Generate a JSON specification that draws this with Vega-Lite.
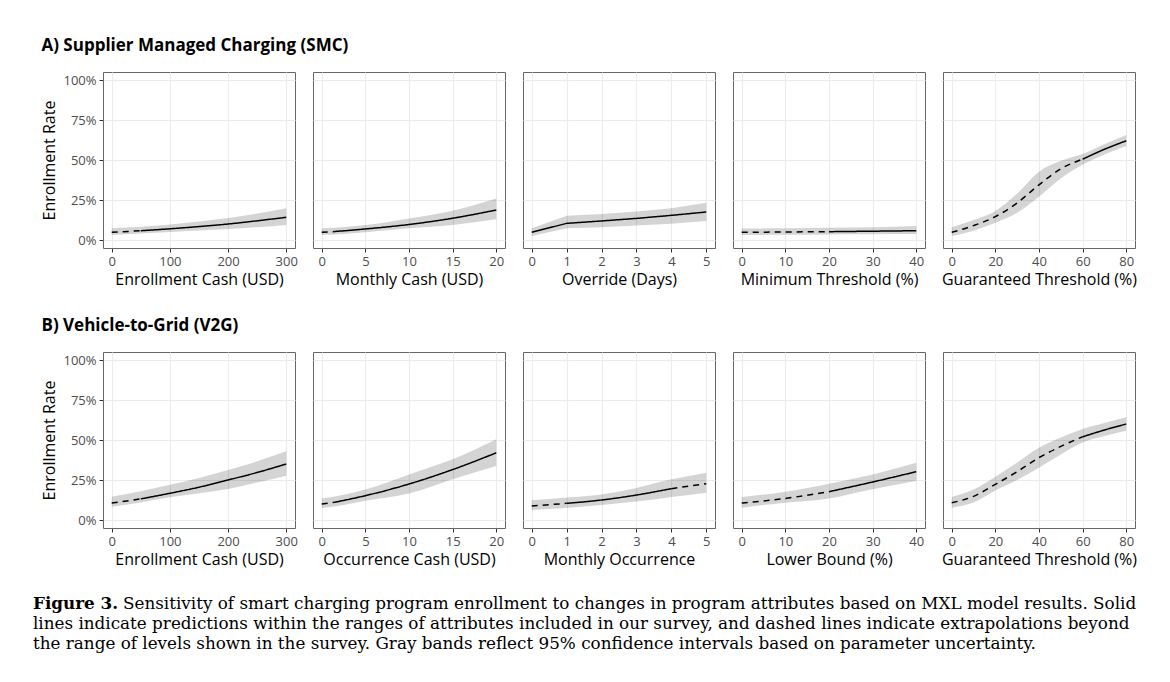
{
  "$schema": "https://vega.github.io/schema/vega-lite/v6.json",
  "background": "white",
  "padding": {"left": 33, "top": 36, "right": 5, "bottom": 5},
  "datasets": {
    "d": [
      {"p":"A1","x":0,"y":0.048,"lo":0.031,"hi":0.073,"s":"dashed","g":"a"},
      {"p":"A1","x":50,"y":0.058,"lo":0.040,"hi":0.083,"s":"dashed","g":"a"},
      {"p":"A1","x":50,"y":0.058,"lo":0.040,"hi":0.083,"s":"solid","g":"b","k":1},
      {"p":"A1","x":100,"y":0.070,"lo":0.050,"hi":0.097,"s":"solid","g":"b"},
      {"p":"A1","x":150,"y":0.084,"lo":0.059,"hi":0.116,"s":"solid","g":"b"},
      {"p":"A1","x":200,"y":0.100,"lo":0.068,"hi":0.137,"s":"solid","g":"b"},
      {"p":"A1","x":250,"y":0.120,"lo":0.080,"hi":0.166,"s":"solid","g":"b"},
      {"p":"A1","x":300,"y":0.142,"lo":0.094,"hi":0.199,"s":"solid","g":"b"},

      {"p":"A2","x":0,"y":0.048,"lo":0.031,"hi":0.073,"s":"dashed","g":"a"},
      {"p":"A2","x":1.5,"y":0.053,"lo":0.035,"hi":0.077,"s":"dashed","g":"a"},
      {"p":"A2","x":1.5,"y":0.053,"lo":0.035,"hi":0.077,"s":"solid","g":"b","k":1},
      {"p":"A2","x":5,"y":0.069,"lo":0.048,"hi":0.093,"s":"solid","g":"b"},
      {"p":"A2","x":10,"y":0.097,"lo":0.073,"hi":0.135,"s":"solid","g":"b"},
      {"p":"A2","x":15,"y":0.136,"lo":0.094,"hi":0.183,"s":"solid","g":"b"},
      {"p":"A2","x":20,"y":0.1875,"lo":0.129,"hi":0.26,"s":"solid","g":"b"},

      {"p":"A3","x":0,"y":0.048,"lo":0.025,"hi":0.073,"s":"solid","g":"b"},
      {"p":"A3","x":1,"y":0.104,"lo":0.073,"hi":0.152,"s":"solid","g":"b"},
      {"p":"A3","x":2,"y":0.119,"lo":0.080,"hi":0.163,"s":"solid","g":"b"},
      {"p":"A3","x":3,"y":0.135,"lo":0.090,"hi":0.178,"s":"solid","g":"b"},
      {"p":"A3","x":4,"y":0.154,"lo":0.102,"hi":0.198,"s":"solid","g":"b"},
      {"p":"A3","x":5,"y":0.175,"lo":0.119,"hi":0.233,"s":"solid","g":"b"},

      {"p":"A4","x":0,"y":0.048,"lo":0.031,"hi":0.072,"s":"dashed","g":"a"},
      {"p":"A4","x":10,"y":0.050,"lo":0.033,"hi":0.073,"s":"dashed","g":"a"},
      {"p":"A4","x":20,"y":0.052,"lo":0.035,"hi":0.076,"s":"dashed","g":"a"},
      {"p":"A4","x":20,"y":0.052,"lo":0.035,"hi":0.076,"s":"solid","g":"b","k":1},
      {"p":"A4","x":30,"y":0.055,"lo":0.036,"hi":0.080,"s":"solid","g":"b"},
      {"p":"A4","x":40,"y":0.058,"lo":0.037,"hi":0.088,"s":"solid","g":"b"},

      {"p":"A5","x":0,"y":0.048,"lo":0.025,"hi":0.079,"s":"dashed","g":"a"},
      {"p":"A5","x":10,"y":0.090,"lo":0.058,"hi":0.125,"s":"dashed","g":"a"},
      {"p":"A5","x":20,"y":0.146,"lo":0.108,"hi":0.182,"s":"dashed","g":"a"},
      {"p":"A5","x":30,"y":0.232,"lo":0.170,"hi":0.290,"s":"dashed","g":"a"},
      {"p":"A5","x":40,"y":0.345,"lo":0.270,"hi":0.427,"s":"dashed","g":"a"},
      {"p":"A5","x":50,"y":0.445,"lo":0.385,"hi":0.495,"s":"dashed","g":"a"},
      {"p":"A5","x":60,"y":0.505,"lo":0.470,"hi":0.538,"s":"dashed","g":"a"},
      {"p":"A5","x":60,"y":0.505,"lo":0.470,"hi":0.538,"s":"solid","g":"b","k":1},
      {"p":"A5","x":70,"y":0.567,"lo":0.535,"hi":0.598,"s":"solid","g":"b"},
      {"p":"A5","x":80,"y":0.620,"lo":0.5875,"hi":0.656,"s":"solid","g":"b"},

      {"p":"B1","x":0,"y":0.106,"lo":0.083,"hi":0.146,"s":"dashed","g":"a"},
      {"p":"B1","x":50,"y":0.132,"lo":0.110,"hi":0.180,"s":"dashed","g":"a"},
      {"p":"B1","x":50,"y":0.132,"lo":0.110,"hi":0.180,"s":"solid","g":"b","k":1},
      {"p":"B1","x":100,"y":0.167,"lo":0.142,"hi":0.220,"s":"solid","g":"b"},
      {"p":"B1","x":150,"y":0.205,"lo":0.167,"hi":0.263,"s":"solid","g":"b"},
      {"p":"B1","x":200,"y":0.250,"lo":0.194,"hi":0.312,"s":"solid","g":"b"},
      {"p":"B1","x":250,"y":0.297,"lo":0.234,"hi":0.367,"s":"solid","g":"b"},
      {"p":"B1","x":300,"y":0.350,"lo":0.277,"hi":0.429,"s":"solid","g":"b"},

      {"p":"B2","x":0,"y":0.100,"lo":0.075,"hi":0.135,"s":"dashed","g":"a"},
      {"p":"B2","x":1.5,"y":0.111,"lo":0.085,"hi":0.147,"s":"dashed","g":"a"},
      {"p":"B2","x":1.5,"y":0.111,"lo":0.085,"hi":0.147,"s":"solid","g":"b","k":1},
      {"p":"B2","x":5,"y":0.152,"lo":0.120,"hi":0.190,"s":"solid","g":"b"},
      {"p":"B2","x":10,"y":0.225,"lo":0.165,"hi":0.285,"s":"solid","g":"b"},
      {"p":"B2","x":15,"y":0.315,"lo":0.254,"hi":0.379,"s":"solid","g":"b"},
      {"p":"B2","x":20,"y":0.420,"lo":0.3375,"hi":0.504,"s":"solid","g":"b"},

      {"p":"B3","x":0,"y":0.0875,"lo":0.0625,"hi":0.123,"s":"dashed","g":"a"},
      {"p":"B3","x":1,"y":0.104,"lo":0.075,"hi":0.140,"s":"dashed","g":"a"},
      {"p":"B3","x":1,"y":0.104,"lo":0.075,"hi":0.140,"s":"solid","g":"b","k":1},
      {"p":"B3","x":2,"y":0.125,"lo":0.094,"hi":0.160,"s":"solid","g":"b"},
      {"p":"B3","x":3,"y":0.156,"lo":0.115,"hi":0.200,"s":"solid","g":"b"},
      {"p":"B3","x":4,"y":0.196,"lo":0.144,"hi":0.254,"s":"solid","g":"b"},
      {"p":"B3","x":4,"y":0.196,"lo":0.144,"hi":0.254,"s":"dashed","g":"c","k":1},
      {"p":"B3","x":5,"y":0.227,"lo":0.171,"hi":0.296,"s":"dashed","g":"c"},

      {"p":"B4","x":0,"y":0.106,"lo":0.077,"hi":0.144,"s":"dashed","g":"a"},
      {"p":"B4","x":10,"y":0.135,"lo":0.108,"hi":0.177,"s":"dashed","g":"a"},
      {"p":"B4","x":20,"y":0.177,"lo":0.135,"hi":0.227,"s":"dashed","g":"a"},
      {"p":"B4","x":20,"y":0.177,"lo":0.135,"hi":0.227,"s":"solid","g":"b","k":1},
      {"p":"B4","x":30,"y":0.2375,"lo":0.192,"hi":0.285,"s":"solid","g":"b"},
      {"p":"B4","x":40,"y":0.302,"lo":0.244,"hi":0.358,"s":"solid","g":"b"},

      {"p":"B5","x":0,"y":0.108,"lo":0.077,"hi":0.144,"s":"dashed","g":"a"},
      {"p":"B5","x":10,"y":0.148,"lo":0.110,"hi":0.190,"s":"dashed","g":"a"},
      {"p":"B5","x":20,"y":0.223,"lo":0.185,"hi":0.270,"s":"dashed","g":"a"},
      {"p":"B5","x":30,"y":0.302,"lo":0.250,"hi":0.360,"s":"dashed","g":"a"},
      {"p":"B5","x":40,"y":0.390,"lo":0.327,"hi":0.452,"s":"dashed","g":"a"},
      {"p":"B5","x":50,"y":0.460,"lo":0.410,"hi":0.515,"s":"dashed","g":"a"},
      {"p":"B5","x":60,"y":0.520,"lo":0.485,"hi":0.569,"s":"dashed","g":"a"},
      {"p":"B5","x":60,"y":0.520,"lo":0.485,"hi":0.569,"s":"solid","g":"b","k":1},
      {"p":"B5","x":70,"y":0.5625,"lo":0.525,"hi":0.607,"s":"solid","g":"b"},
      {"p":"B5","x":80,"y":0.600,"lo":0.558,"hi":0.642,"s":"solid","g":"b"}
    ],
    "cap": [
      {"l":1,"b":1,"t":"Figure 3."},
      {"l":1,"b":2,"t":"Sensitivity of smart charging program enrollment to changes in program attributes based on MXL model results. Solid"},
      {"l":2,"b":0,"t":"lines indicate predictions within the ranges of attributes included in our survey, and dashed lines indicate extrapolations beyond"},
      {"l":3,"b":0,"t":"the range of levels shown in the survey. Gray bands reflect 95% confidence intervals based on parameter uncertainty."}
    ]
  },
  "spacing": 28,
  "vconcat": [
    {
      "title": {"text": "A) Supplier Managed Charging (SMC)"},
      "data": {"name": "d"},
      "bounds": "flush",
      "spacing": 18,
      "hconcat": [
        {"width":192,"height":176,"transform":[{"filter":"datum.p==='A1'"}],
         "encoding":{"x":{"field":"x","type":"quantitative","scale":{"domain":[-15,315],"nice":false,"zero":false},"axis":{"values":[0,100,200,300],"title":"Enrollment Cash (USD)"}}},
         "layer":[
          {"transform":[{"filter":"!datum.k"}],"mark":{"type":"area","color":"#000","opacity":0.17,"interpolate":"monotone"},
           "encoding":{"y":{"field":"lo","type":"quantitative","scale":{"domain":[-0.05,1.05],"nice":false,"zero":false},"axis":{"values":[0,0.25,0.5,0.75,1],"format":"%","title":"Enrollment Rate"}},"y2":{"field":"hi"}}},
          {"mark":{"type":"line","color":"#000","strokeWidth":1.5,"interpolate":"monotone"},
           "encoding":{"y":{"field":"y","type":"quantitative","scale":{"domain":[-0.05,1.05],"nice":false,"zero":false},"axis":{"values":[0,0.25,0.5,0.75,1],"format":"%","title":"Enrollment Rate"}},"detail":{"field":"g"},"strokeDash":{"field":"s","type":"nominal","scale":{"domain":["solid","dashed"],"range":[[1,0],[6,5]]},"legend":null}}}
         ]},
        {"width":192,"height":176,"transform":[{"filter":"datum.p==='A2'"}],
         "encoding":{"x":{"field":"x","type":"quantitative","scale":{"domain":[-1,21],"nice":false,"zero":false},"axis":{"values":[0,5,10,15,20],"title":"Monthly Cash (USD)"}}},
         "layer":[
          {"transform":[{"filter":"!datum.k"}],"mark":{"type":"area","color":"#000","opacity":0.17,"interpolate":"monotone"},
           "encoding":{"y":{"field":"lo","type":"quantitative","scale":{"domain":[-0.05,1.05],"nice":false,"zero":false},"axis":{"values":[0,0.25,0.5,0.75,1],"labels":false,"ticks":false,"title":null}},"y2":{"field":"hi"}}},
          {"mark":{"type":"line","color":"#000","strokeWidth":1.5,"interpolate":"monotone"},
           "encoding":{"y":{"field":"y","type":"quantitative","scale":{"domain":[-0.05,1.05],"nice":false,"zero":false},"axis":{"values":[0,0.25,0.5,0.75,1],"labels":false,"ticks":false,"title":null}},"detail":{"field":"g"},"strokeDash":{"field":"s","type":"nominal","scale":{"domain":["solid","dashed"],"range":[[1,0],[6,5]]},"legend":null}}}
         ]},
        {"width":192,"height":176,"transform":[{"filter":"datum.p==='A3'"}],
         "encoding":{"x":{"field":"x","type":"quantitative","scale":{"domain":[-0.25,5.25],"nice":false,"zero":false},"axis":{"values":[0,1,2,3,4,5],"title":"Override (Days)"}}},
         "layer":[
          {"transform":[{"filter":"!datum.k"}],"mark":{"type":"area","color":"#000","opacity":0.17},
           "encoding":{"y":{"field":"lo","type":"quantitative","scale":{"domain":[-0.05,1.05],"nice":false,"zero":false},"axis":{"values":[0,0.25,0.5,0.75,1],"labels":false,"ticks":false,"title":null}},"y2":{"field":"hi"}}},
          {"mark":{"type":"line","color":"#000","strokeWidth":1.5},
           "encoding":{"y":{"field":"y","type":"quantitative","scale":{"domain":[-0.05,1.05],"nice":false,"zero":false},"axis":{"values":[0,0.25,0.5,0.75,1],"labels":false,"ticks":false,"title":null}},"detail":{"field":"g"},"strokeDash":{"field":"s","type":"nominal","scale":{"domain":["solid","dashed"],"range":[[1,0],[6,5]]},"legend":null}}}
         ]},
        {"width":192,"height":176,"transform":[{"filter":"datum.p==='A4'"}],
         "encoding":{"x":{"field":"x","type":"quantitative","scale":{"domain":[-2,42],"nice":false,"zero":false},"axis":{"values":[0,10,20,30,40],"title":"Minimum Threshold (%)"}}},
         "layer":[
          {"transform":[{"filter":"!datum.k"}],"mark":{"type":"area","color":"#000","opacity":0.17,"interpolate":"monotone"},
           "encoding":{"y":{"field":"lo","type":"quantitative","scale":{"domain":[-0.05,1.05],"nice":false,"zero":false},"axis":{"values":[0,0.25,0.5,0.75,1],"labels":false,"ticks":false,"title":null}},"y2":{"field":"hi"}}},
          {"mark":{"type":"line","color":"#000","strokeWidth":1.5,"interpolate":"monotone"},
           "encoding":{"y":{"field":"y","type":"quantitative","scale":{"domain":[-0.05,1.05],"nice":false,"zero":false},"axis":{"values":[0,0.25,0.5,0.75,1],"labels":false,"ticks":false,"title":null}},"detail":{"field":"g"},"strokeDash":{"field":"s","type":"nominal","scale":{"domain":["solid","dashed"],"range":[[1,0],[6,5]]},"legend":null}}}
         ]},
        {"width":192,"height":176,"transform":[{"filter":"datum.p==='A5'"}],
         "encoding":{"x":{"field":"x","type":"quantitative","scale":{"domain":[-4,84],"nice":false,"zero":false},"axis":{"values":[0,20,40,60,80],"title":"Guaranteed Threshold (%)"}}},
         "layer":[
          {"transform":[{"filter":"!datum.k"}],"mark":{"type":"area","color":"#000","opacity":0.17,"interpolate":"monotone"},
           "encoding":{"y":{"field":"lo","type":"quantitative","scale":{"domain":[-0.05,1.05],"nice":false,"zero":false},"axis":{"values":[0,0.25,0.5,0.75,1],"labels":false,"ticks":false,"title":null}},"y2":{"field":"hi"}}},
          {"mark":{"type":"line","color":"#000","strokeWidth":1.5,"interpolate":"monotone"},
           "encoding":{"y":{"field":"y","type":"quantitative","scale":{"domain":[-0.05,1.05],"nice":false,"zero":false},"axis":{"values":[0,0.25,0.5,0.75,1],"labels":false,"ticks":false,"title":null}},"detail":{"field":"g"},"strokeDash":{"field":"s","type":"nominal","scale":{"domain":["solid","dashed"],"range":[[1,0],[6,5]]},"legend":null}}}
         ]}
      ]
    },
    {
      "title": {"text": "B) Vehicle-to-Grid (V2G)"},
      "data": {"name": "d"},
      "bounds": "flush",
      "spacing": 18,
      "hconcat": [
        {"width":192,"height":176,"transform":[{"filter":"datum.p==='B1'"}],
         "encoding":{"x":{"field":"x","type":"quantitative","scale":{"domain":[-15,315],"nice":false,"zero":false},"axis":{"values":[0,100,200,300],"title":"Enrollment Cash (USD)"}}},
         "layer":[
          {"transform":[{"filter":"!datum.k"}],"mark":{"type":"area","color":"#000","opacity":0.17,"interpolate":"monotone"},
           "encoding":{"y":{"field":"lo","type":"quantitative","scale":{"domain":[-0.05,1.05],"nice":false,"zero":false},"axis":{"values":[0,0.25,0.5,0.75,1],"format":"%","title":"Enrollment Rate"}},"y2":{"field":"hi"}}},
          {"mark":{"type":"line","color":"#000","strokeWidth":1.5,"interpolate":"monotone"},
           "encoding":{"y":{"field":"y","type":"quantitative","scale":{"domain":[-0.05,1.05],"nice":false,"zero":false},"axis":{"values":[0,0.25,0.5,0.75,1],"format":"%","title":"Enrollment Rate"}},"detail":{"field":"g"},"strokeDash":{"field":"s","type":"nominal","scale":{"domain":["solid","dashed"],"range":[[1,0],[6,5]]},"legend":null}}}
         ]},
        {"width":192,"height":176,"transform":[{"filter":"datum.p==='B2'"}],
         "encoding":{"x":{"field":"x","type":"quantitative","scale":{"domain":[-1,21],"nice":false,"zero":false},"axis":{"values":[0,5,10,15,20],"title":"Occurrence Cash (USD)"}}},
         "layer":[
          {"transform":[{"filter":"!datum.k"}],"mark":{"type":"area","color":"#000","opacity":0.17,"interpolate":"monotone"},
           "encoding":{"y":{"field":"lo","type":"quantitative","scale":{"domain":[-0.05,1.05],"nice":false,"zero":false},"axis":{"values":[0,0.25,0.5,0.75,1],"labels":false,"ticks":false,"title":null}},"y2":{"field":"hi"}}},
          {"mark":{"type":"line","color":"#000","strokeWidth":1.5,"interpolate":"monotone"},
           "encoding":{"y":{"field":"y","type":"quantitative","scale":{"domain":[-0.05,1.05],"nice":false,"zero":false},"axis":{"values":[0,0.25,0.5,0.75,1],"labels":false,"ticks":false,"title":null}},"detail":{"field":"g"},"strokeDash":{"field":"s","type":"nominal","scale":{"domain":["solid","dashed"],"range":[[1,0],[6,5]]},"legend":null}}}
         ]},
        {"width":192,"height":176,"transform":[{"filter":"datum.p==='B3'"}],
         "encoding":{"x":{"field":"x","type":"quantitative","scale":{"domain":[-0.25,5.25],"nice":false,"zero":false},"axis":{"values":[0,1,2,3,4,5],"title":"Monthly Occurrence"}}},
         "layer":[
          {"transform":[{"filter":"!datum.k"}],"mark":{"type":"area","color":"#000","opacity":0.17,"interpolate":"monotone"},
           "encoding":{"y":{"field":"lo","type":"quantitative","scale":{"domain":[-0.05,1.05],"nice":false,"zero":false},"axis":{"values":[0,0.25,0.5,0.75,1],"labels":false,"ticks":false,"title":null}},"y2":{"field":"hi"}}},
          {"mark":{"type":"line","color":"#000","strokeWidth":1.5,"interpolate":"monotone"},
           "encoding":{"y":{"field":"y","type":"quantitative","scale":{"domain":[-0.05,1.05],"nice":false,"zero":false},"axis":{"values":[0,0.25,0.5,0.75,1],"labels":false,"ticks":false,"title":null}},"detail":{"field":"g"},"strokeDash":{"field":"s","type":"nominal","scale":{"domain":["solid","dashed"],"range":[[1,0],[6,5]]},"legend":null}}}
         ]},
        {"width":192,"height":176,"transform":[{"filter":"datum.p==='B4'"}],
         "encoding":{"x":{"field":"x","type":"quantitative","scale":{"domain":[-2,42],"nice":false,"zero":false},"axis":{"values":[0,10,20,30,40],"title":"Lower Bound (%)"}}},
         "layer":[
          {"transform":[{"filter":"!datum.k"}],"mark":{"type":"area","color":"#000","opacity":0.17,"interpolate":"monotone"},
           "encoding":{"y":{"field":"lo","type":"quantitative","scale":{"domain":[-0.05,1.05],"nice":false,"zero":false},"axis":{"values":[0,0.25,0.5,0.75,1],"labels":false,"ticks":false,"title":null}},"y2":{"field":"hi"}}},
          {"mark":{"type":"line","color":"#000","strokeWidth":1.5,"interpolate":"monotone"},
           "encoding":{"y":{"field":"y","type":"quantitative","scale":{"domain":[-0.05,1.05],"nice":false,"zero":false},"axis":{"values":[0,0.25,0.5,0.75,1],"labels":false,"ticks":false,"title":null}},"detail":{"field":"g"},"strokeDash":{"field":"s","type":"nominal","scale":{"domain":["solid","dashed"],"range":[[1,0],[6,5]]},"legend":null}}}
         ]},
        {"width":192,"height":176,"transform":[{"filter":"datum.p==='B5'"}],
         "encoding":{"x":{"field":"x","type":"quantitative","scale":{"domain":[-4,84],"nice":false,"zero":false},"axis":{"values":[0,20,40,60,80],"title":"Guaranteed Threshold (%)"}}},
         "layer":[
          {"transform":[{"filter":"!datum.k"}],"mark":{"type":"area","color":"#000","opacity":0.17,"interpolate":"monotone"},
           "encoding":{"y":{"field":"lo","type":"quantitative","scale":{"domain":[-0.05,1.05],"nice":false,"zero":false},"axis":{"values":[0,0.25,0.5,0.75,1],"labels":false,"ticks":false,"title":null}},"y2":{"field":"hi"}}},
          {"mark":{"type":"line","color":"#000","strokeWidth":1.5,"interpolate":"monotone"},
           "encoding":{"y":{"field":"y","type":"quantitative","scale":{"domain":[-0.05,1.05],"nice":false,"zero":false},"axis":{"values":[0,0.25,0.5,0.75,1],"labels":false,"ticks":false,"title":null}},"detail":{"field":"g"},"strokeDash":{"field":"s","type":"nominal","scale":{"domain":["solid","dashed"],"range":[[1,0],[6,5]]},"legend":null}}}
         ]}
      ]
    },
    {
      "width": 1030,
      "height": 60,
      "data": {"name": "cap"},
      "view": {"stroke": null},
      "encoding": {"y": {"field": "l", "type": "ordinal", "axis": null}, "text": {"field": "t"}},
      "layer": [
        {"transform": [{"filter": "datum.b === 1"}], "mark": {"type": "text", "align": "left", "baseline": "middle", "x": -70, "dy": -4, "font": "DejaVu Serif", "fontSize": 16.8, "fontWeight": "bold", "color": "#000"}},
        {"transform": [{"filter": "datum.b === 2"}], "mark": {"type": "text", "align": "left", "baseline": "middle", "x": 20, "dy": -4, "font": "DejaVu Serif", "fontSize": 16.8, "color": "#000"}},
        {"transform": [{"filter": "datum.b === 0"}], "mark": {"type": "text", "align": "left", "baseline": "middle", "x": -70, "dy": -4, "font": "DejaVu Serif", "fontSize": 16.8, "color": "#000"}}
      ]
    }
  ],
  "config": {
    "font": "Open Sans",
    "view": {"stroke": "#666", "strokeWidth": 1},
    "axis": {"domain": false, "grid": true, "gridColor": "#ebebeb", "gridWidth": 1.1, "tickColor": "#333", "tickSize": 4, "labelColor": "#4d4d4d", "labelFontSize": 13, "labelPadding": 3, "labelFlush": false, "titleFontSize": 16, "titleFontWeight": "normal", "titleColor": "#000", "titlePadding": 3},
    "axisY": {"labelPadding": 3, "titlePadding": 5},
    "title": {"fontSize": 17, "fontWeight": "bold", "anchor": "start", "color": "#000", "offset": 17}
  }
}
